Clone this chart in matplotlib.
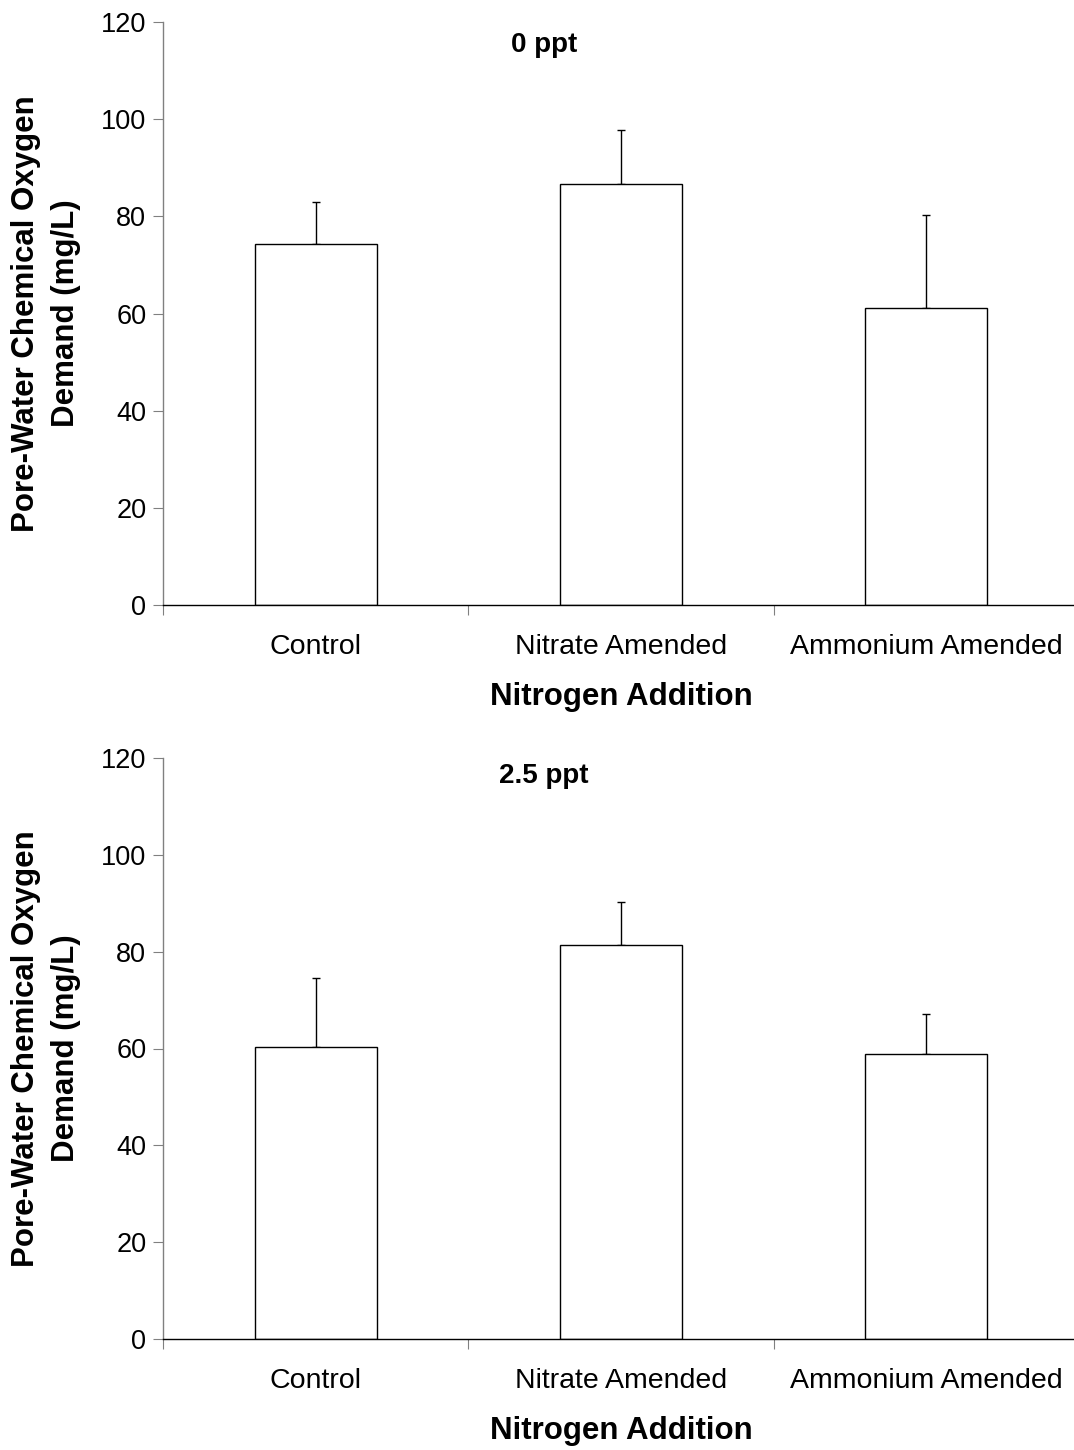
import matplotlib.pyplot as plt
import numpy as np

plt.rcParams['font.family'] = ['Liberation Sans', 'DejaVu Sans']

# Data
categories = ['Control', 'Nitrate Amended', 'Ammonium Amended']
panel_titles = ['0 ppt', '2.5 ppt']
means_0ppt = [74.3, 86.7, 61.1]
err_0ppt = [8.7, 11.1, 19.2]
means_25ppt = [60.3, 81.4, 58.9]
err_25ppt = [14.3, 8.9, 8.2]

means = [means_0ppt, means_25ppt]
errs = [err_0ppt, err_25ppt]

W, H = 1074, 1450
fig = plt.figure(figsize=(W / 100, H / 100), dpi=100)

# axes positions in pixels: (top, bottom), title centre y
panels = [(22, 605, 45), (758, 1339, 776)]
left_px = 163
width_px = 916

for i, (top, bot, ty) in enumerate(panels):
    hpx = bot - top
    ax = fig.add_axes([left_px / W, 1 - bot / H, width_px / W, hpx / H])
    x = np.arange(len(categories))
    ax.bar(x, means[i], width=0.4, color='white', edgecolor='black', linewidth=1.0, zorder=2)
    ax.errorbar(x, means[i], yerr=[np.zeros(3), errs[i]], fmt='none', ecolor='black',
                elinewidth=1.0, capsize=3, capthick=1.0, zorder=1)
    ax.set_xlim(-0.5, 2.5)
    ax.set_ylim(0, 120)
    ax.set_yticks(np.arange(0, 121, 20))
    ax.set_xticks([-0.5, 0.5, 1.5, 2.5])
    ax.set_xticklabels([])
    ax.set_xticks(x, minor=True)
    ax.set_xticklabels(categories, minor=True, fontsize=20.5)
    ax.tick_params(axis='x', which='major', direction='out', length=7, width=0.8, color='#808080')
    ax.tick_params(axis='x', which='minor', length=0, pad=21)
    ax.tick_params(axis='y', direction='out', length=7, width=0.8, color='#808080', labelsize=19.5, pad=5)
    for s in ['top', 'right']:
        ax.spines[s].set_visible(False)
    ax.spines['left'].set_color('#808080')
    ax.spines['left'].set_linewidth(1.0)
    ax.spines['bottom'].set_color('black')
    ax.spines['bottom'].set_linewidth(1.0)
    ax.set_xlabel('Nitrogen Addition', fontsize=22.5, fontweight='bold')
    ax.xaxis.label.set_va('center')
    ax.xaxis.set_label_coords(0.5, -(697 - 605) / 583)
    ax.set_ylabel('Pore-Water Chemical Oxygen\nDemand (mg/L)', fontsize=22.5, fontweight='bold',
                  linespacing=1.45)
    ax.yaxis.label.set_va('center')
    ax.yaxis.set_label_coords((46 - left_px) / width_px, 0.5)
    ax.text((544 - left_px) / width_px, 1 - (ty - top) / hpx,
            panel_titles[i], transform=ax.transAxes, fontsize=20, fontweight='bold',
            ha='center', va='center')

fig.savefig('out.png', dpi=100)
